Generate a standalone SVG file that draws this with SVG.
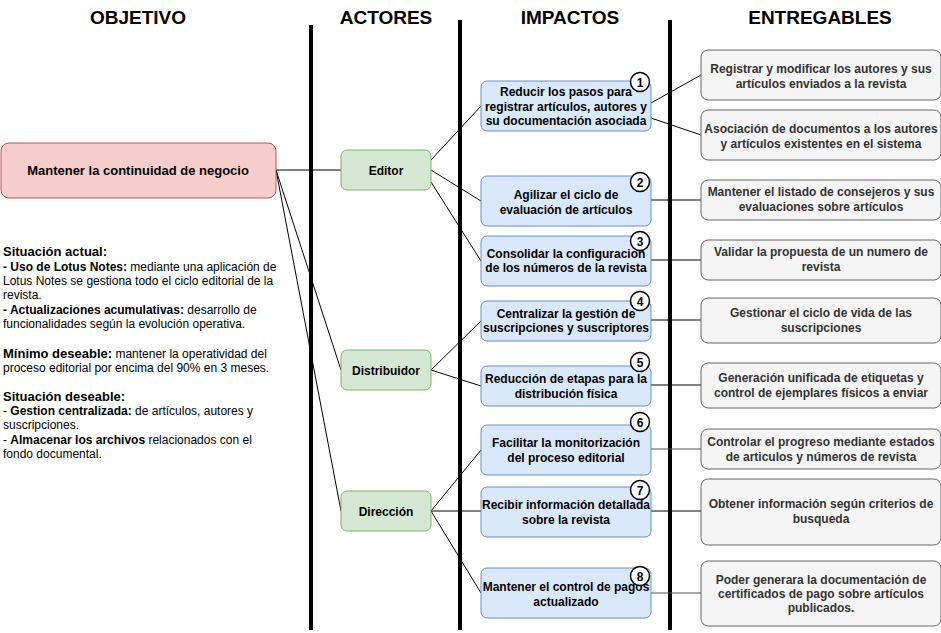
<svg xmlns="http://www.w3.org/2000/svg" width="941" height="633" viewBox="0 0 941 633">
<style>
text{font-family:"Liberation Sans",Arial,sans-serif;}
.hdr{font-size:19px;font-weight:bold;text-anchor:middle;fill:#000;}
.goal{fill:#f8cecc;stroke:#b85450;stroke-width:1;}
.act{fill:#d5e8d4;stroke:#82b366;stroke-width:1;}
.imp{fill:#dae8fc;stroke:#6c8ebf;stroke-width:1;}
.del{fill:#f5f5f5;stroke:#666666;stroke-width:1;}
.lbl{font-size:12px;font-weight:bold;text-anchor:middle;fill:#000;}
.dlbl{font-size:12px;font-weight:bold;text-anchor:middle;fill:#333333;}
.num{fill:#fff;stroke:#000;stroke-width:1.5;}
.sep{stroke:#000;stroke-width:4;}
.edge{stroke:#000;stroke-width:1;fill:none;}
.edge2{stroke:#555;stroke-width:1.2;fill:none;}
.txt{font-size:12px;fill:#000;}
.b{font-weight:bold;}
.h13{font-size:13px;font-weight:bold;}
</style>

<g id="headers">
<text class="hdr" x="138" y="24">OBJETIVO</text>
<text class="hdr" x="386" y="24">ACTORES</text>
<text class="hdr" x="570" y="24">IMPACTOS</text>
<text class="hdr" x="820" y="24">ENTREGABLES</text>
</g>

<g id="separators">
<line class="sep" x1="311" y1="25" x2="311" y2="630"/>
<line class="sep" x1="460" y1="20" x2="460" y2="630"/>
<line class="sep" x1="670" y1="20" x2="670" y2="630"/>
</g>

<g id="connectors">
<line class="edge" x1="276" y1="170" x2="341" y2="170"/>
<line class="edge" x1="276" y1="170" x2="341" y2="370"/>
<line class="edge" x1="276" y1="170" x2="341" y2="511"/>
<line class="edge" x1="431" y1="160" x2="481" y2="106"/>
<line class="edge" x1="431" y1="170" x2="481" y2="201"/>
<line class="edge" x1="431" y1="182" x2="481" y2="261"/>
<line class="edge" x1="431" y1="370" x2="481" y2="321"/>
<line class="edge" x1="431" y1="370" x2="481" y2="386"/>
<line class="edge" x1="431" y1="511" x2="481" y2="450"/>
<line class="edge" x1="431" y1="511" x2="481" y2="511"/>
<line class="edge" x1="431" y1="511" x2="481" y2="593"/>
<line class="edge" x1="651" y1="103" x2="701" y2="75"/>
<line class="edge" x1="651" y1="118" x2="701" y2="135"/>
<line class="edge" x1="651" y1="200" x2="701" y2="200"/>
<line class="edge" x1="651" y1="260" x2="701" y2="260"/>
<line class="edge" x1="651" y1="320" x2="701" y2="320"/>
<line class="edge" x1="651" y1="385" x2="701" y2="385"/>
<line class="edge2" x1="651" y1="449" x2="701" y2="449"/>
<line class="edge" x1="651" y1="511" x2="701" y2="511"/>
<line class="edge2" x1="651" y1="593" x2="701" y2="593"/>
</g>

<g id="goal">
<rect class="goal" x="1" y="143" width="275" height="55" rx="8"/>
<text class="lbl" x="138" y="175" style="font-size:13px">Mantener la continuidad de negocio</text>
</g>

<g id="context">
<text class="txt" x="3" y="256"><tspan class="h13">Situación actual:</tspan></text>
<text class="txt" x="3" y="271"><tspan class="b">- Uso de Lotus Notes:</tspan> mediante una aplicación de</text>
<text class="txt" x="3" y="285">Lotus Notes se gestiona todo el ciclo editorial de la</text>
<text class="txt" x="3" y="299">revista.</text>
<text class="txt" x="3" y="314"><tspan class="b">- Actualizaciones acumulativas:</tspan> desarrollo de</text>
<text class="txt" x="3" y="328">funcionalidades según la evolución operativa.</text>
<text class="txt" x="3" y="358"><tspan class="h13">Mínimo deseable:</tspan> mantener la operatividad del</text>
<text class="txt" x="3" y="372">proceso editorial por encima del 90% en 3 meses.</text>
<text class="txt" x="3" y="401"><tspan class="h13">Situación deseable:</tspan></text>
<text class="txt" x="3" y="415">- <tspan class="b">Gestion centralizada:</tspan> de artículos, autores y</text>
<text class="txt" x="3" y="429">suscripciones.</text>
<text class="txt" x="3" y="444">- <tspan class="b">Almacenar los archivos</tspan> relacionados con el</text>
<text class="txt" x="3" y="458">fondo documental.</text>
</g>

<g id="actor-editor">
<rect class="act" x="341" y="150" width="90" height="40" rx="6"/>
<text class="lbl" x="386" y="175">Editor</text>
</g>
<g id="actor-distribuidor">
<rect class="act" x="341" y="350" width="90" height="40" rx="6"/>
<text class="lbl" x="386" y="375">Distribuidor</text>
</g>
<g id="actor-direccion">
<rect class="act" x="341" y="491" width="90" height="40" rx="6"/>
<text class="lbl" x="386" y="516">Dirección</text>
</g>

<g id="impact-1">
<rect class="imp" x="481" y="81" width="170" height="50" rx="6"/>
<text class="lbl" x="566" y="96">Reducir los pasos para</text>
<text class="lbl" x="566" y="111">registrar artículos, autores y</text>
<text class="lbl" x="566" y="125">su documentación asociada</text>
<circle class="num" cx="640" cy="82" r="9.5"/>
<text class="lbl" x="640" y="86.5">1</text>
</g>
<g id="impact-2">
<rect class="imp" x="481" y="176" width="170" height="50" rx="6"/>
<text class="lbl" x="566" y="199">Agilizar el ciclo de</text>
<text class="lbl" x="566" y="213.5">evaluación de artículos</text>
<circle class="num" cx="640" cy="182" r="9.5"/>
<text class="lbl" x="640" y="186.5">2</text>
</g>
<g id="impact-3">
<rect class="imp" x="481" y="236" width="170" height="50" rx="6"/>
<text class="lbl" x="566" y="257.5">Consolidar la configuracion</text>
<text class="lbl" x="566" y="272">de los números de la revista</text>
<circle class="num" cx="640" cy="241" r="9.5"/>
<text class="lbl" x="640" y="245.5">3</text>
</g>
<g id="impact-4">
<rect class="imp" x="481" y="301" width="170" height="40" rx="6"/>
<text class="lbl" x="566" y="317.5">Centralizar la gestión de</text>
<text class="lbl" x="566" y="332">suscripciones y suscriptores</text>
<circle class="num" cx="640" cy="301" r="9.5"/>
<text class="lbl" x="640" y="305.5">4</text>
</g>
<g id="impact-5">
<rect class="imp" x="481" y="366" width="170" height="40" rx="6"/>
<text class="lbl" x="566" y="383">Reducción de etapas para la</text>
<text class="lbl" x="566" y="397.5">distribución física</text>
<circle class="num" cx="640" cy="362" r="9.5"/>
<text class="lbl" x="640" y="366.5">5</text>
</g>
<g id="impact-6">
<rect class="imp" x="481" y="425" width="170" height="50" rx="6"/>
<text class="lbl" x="566" y="447">Facilitar la monitorización</text>
<text class="lbl" x="566" y="462">del proceso editorial</text>
<circle class="num" cx="640" cy="422" r="9.5"/>
<text class="lbl" x="640" y="426.5">6</text>
</g>
<g id="impact-7">
<rect class="imp" x="481" y="487" width="170" height="50" rx="6"/>
<text class="lbl" x="566" y="509">Recibir información detallada</text>
<text class="lbl" x="566" y="523.5">sobre la revista</text>
<circle class="num" cx="640" cy="490" r="9.5"/>
<text class="lbl" x="640" y="494.5">7</text>
</g>
<g id="impact-8">
<rect class="imp" x="481" y="568" width="170" height="50" rx="6"/>
<text class="lbl" x="566" y="591">Mantener el control de pagos</text>
<text class="lbl" x="566" y="606">actualizado</text>
<circle class="num" cx="640" cy="576" r="9.5"/>
<text class="lbl" x="640" y="580.5">8</text>
</g>

<g id="deliverable-1">
<rect class="del" x="701" y="50" width="240" height="50" rx="7"/>
<text class="dlbl" x="821" y="73">Registrar y modificar los autores y sus</text>
<text class="dlbl" x="821" y="88">artículos enviados a la revista</text>
</g>
<g id="deliverable-2">
<rect class="del" x="701" y="110" width="240" height="50" rx="7"/>
<text class="dlbl" x="821" y="133">Asociación de documentos a los autores</text>
<text class="dlbl" x="821" y="148">y artículos existentes en el sistema</text>
</g>
<g id="deliverable-3">
<rect class="del" x="701" y="180" width="240" height="40" rx="7"/>
<text class="dlbl" x="821" y="196">Mantener el listado de consejeros y sus</text>
<text class="dlbl" x="821" y="211">evaluaciones sobre artículos</text>
</g>
<g id="deliverable-4">
<rect class="del" x="701" y="240" width="240" height="40" rx="7"/>
<text class="dlbl" x="821" y="256">Validar la propuesta de un numero de</text>
<text class="dlbl" x="821" y="271">revista</text>
</g>
<g id="deliverable-5">
<rect class="del" x="701" y="298" width="240" height="45" rx="7"/>
<text class="dlbl" x="821" y="317">Gestionar el ciclo de vida de las</text>
<text class="dlbl" x="821" y="332">suscripciones</text>
</g>
<g id="deliverable-6">
<rect class="del" x="701" y="363" width="240" height="45" rx="7"/>
<text class="dlbl" x="821" y="382">Generación unificada de etiquetas y</text>
<text class="dlbl" x="821" y="397">control de ejemplares físicos a enviar</text>
</g>
<g id="deliverable-7">
<rect class="del" x="701" y="429" width="240" height="40" rx="7"/>
<text class="dlbl" x="821" y="446">Controlar el progreso mediante estados</text>
<text class="dlbl" x="821" y="461">de articulos y números de revista</text>
</g>
<g id="deliverable-8">
<rect class="del" x="701" y="479" width="240" height="66" rx="7"/>
<text class="dlbl" x="821" y="508">Obtener información según criterios de</text>
<text class="dlbl" x="821" y="523">busqueda</text>
</g>
<g id="deliverable-9">
<rect class="del" x="701" y="561" width="240" height="65" rx="7"/>
<text class="dlbl" x="821" y="584">Poder generara la documentación de</text>
<text class="dlbl" x="821" y="598">certificados de pago sobre artículos</text>
<text class="dlbl" x="821" y="612">publicados.</text>
</g>
</svg>
